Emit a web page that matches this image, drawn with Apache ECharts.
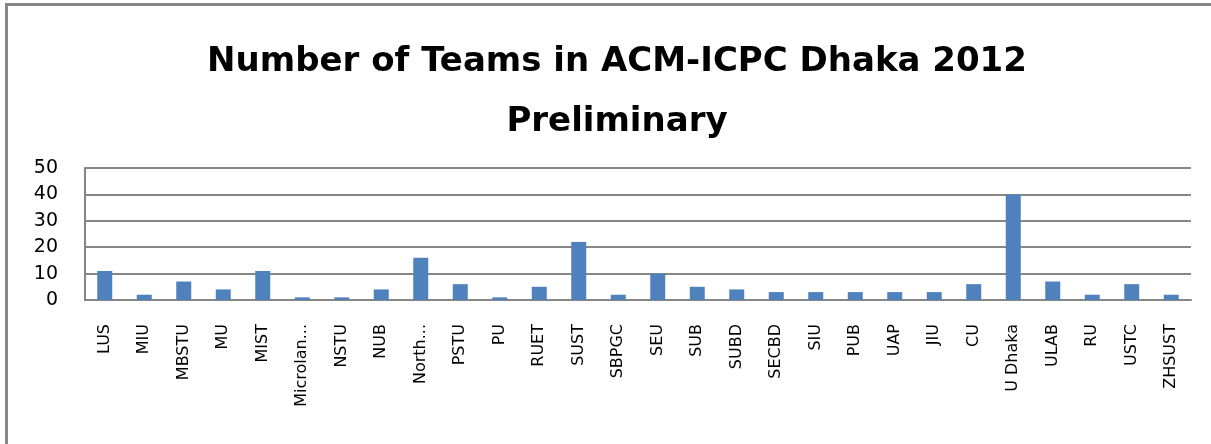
<!DOCTYPE html>
<html>
<head>
<meta charset="utf-8">
<script src="https://cdn.jsdelivr.net/npm/echarts@6/dist/echarts.min.js"></script>
<style>
	html, body { margin: 0; padding: 0; background: #fff; }
	#chart1 { width: 1211px; height: 444px; }
</style>
</head>
<body>
<div id="chart1"></div>
<script>
// 队伍名称
var teams = [ "LUS", "MIU", "MBSTU", "MU", "MIST", "Microlan...", "NSTU", "NUB",
	"North...", "PSTU", "PU", "RUET", "SUST", "SBPGC", "SEU", "SUB", "SUBD",
	"SECBD", "SIU", "PUB", "UAP", "JIU", "CU", "U Dhaka", "ULAB", "RU", "USTC", "ZHSUST" ];
// 每所学校的队伍数量
var teamCounts = [ 11, 2, 7, 4, 11, 1, 1, 4, 16, 6, 1, 5, 22, 2, 10, 5, 4,
	3, 3, 3, 3, 3, 6, 40, 7, 2, 6, 2 ];
// 纵轴刻度
var yMin = 0, yMax = 50, yStep = 10;

initTeamChart();

// 绘制队伍数量柱状图
function initTeamChart() {
	var myChart = echarts.init(document.getElementById("chart1"));
	var option = {
		animation : false,
		backgroundColor : '#ffffff',
		title : {
			text : 'Number of Teams in ACM-ICPC Dhaka 2012\nPreliminary',
			left : 612,
			textAlign : 'center',
			top : 27,
			textStyle : {
				fontFamily : 'DejaVu Sans',
				fontWeight : 'bold',
				fontSize : 34,
				lineHeight : 60,
				color : '#000000'
			}
		},
		graphic : [ {
			type : 'polyline',
			shape : { points : [ [ 6.5, 444 ], [ 6.5, 4.5 ], [ 1211, 4.5 ] ] },
			style : { stroke : '#868686', lineWidth : 3, fill : null }
		} ],
		grid : {
			left : 85,
			right : 20,
			top : 168,
			bottom : 144
		},
		xAxis : {
			type : 'category',
			data : teams,
			axisTick : { show : false },
			axisLine : { lineStyle : { color : '#868686', width : 2 } },
			axisLabel : {
				interval : 0,
				rotate : 90,
				margin : 24,
				fontFamily : 'DejaVu Sans',
				fontSize : 16,
				color : '#000000'
			}
		},
		yAxis : {
			type : 'value',
			min : yMin,
			max : yMax,
			interval : yStep,
			axisLine : { show : true, lineStyle : { color : '#868686', width : 2 } },
			axisTick : { show : false },
			splitLine : { lineStyle : { color : '#868686', width : 2 } },
			axisLabel : {
				margin : 27,
				fontFamily : 'DejaVu Sans',
				fontSize : 19,
				color : '#000000'
			}
		},
		series : [ {
			name : 'Teams',
			type : 'bar',
			data : teamCounts,
			barWidth : 15,
			itemStyle : { color : '#4F81BD' }
		} ]
	};
	myChart.setOption(option);
}
</script>
</body>
</html>
